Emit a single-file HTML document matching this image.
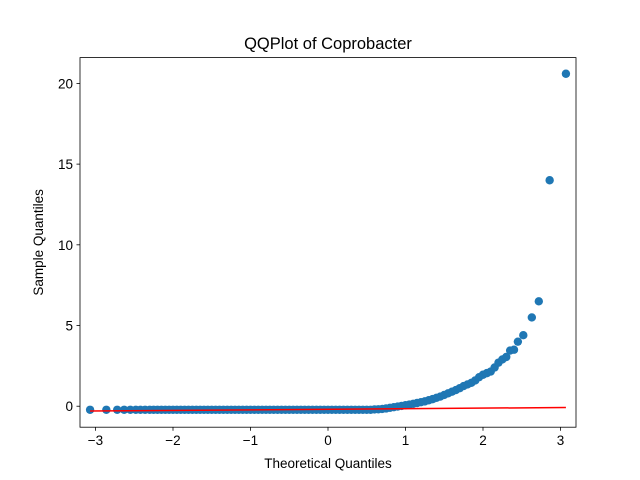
<!DOCTYPE html>
<html><head><meta charset="utf-8"><style>body{margin:0;background:#fff}svg{display:block;font-family:"Liberation Sans","DejaVu Sans",sans-serif}</style></head>
<body>
<svg id="chart" width="640" height="480" viewBox="0 0 640 480" xmlns="http://www.w3.org/2000/svg">
<rect width="640" height="480" fill="#fff"/>
<g id="marks"></g>
<g id="axes"></g>
</svg>
<script>
const xTicks=[-3,-2,-1,0,1,2,3];
const yTicks=[0,5,10,15,20];
const theoretical=[-3.07,-2.86,-2.72,-2.63,-2.55,-2.48,-2.42,-2.36,-2.3,-2.25,-2.2,-2.15,-2.1,-2.05,-2.0,-1.95,-1.9,-1.85,-1.8,-1.75,-1.7,-1.65,-1.6,-1.55,-1.5,-1.45,-1.4,-1.35,-1.3,-1.25,-1.2,-1.15,-1.1,-1.05,-1.0,-0.95,-0.9,-0.85,-0.8,-0.75,-0.7,-0.65,-0.6,-0.55,-0.5,-0.45,-0.4,-0.35,-0.3,-0.25,-0.2,-0.15,-0.1,-0.05,0,0.05,0.1,0.15,0.2,0.25,0.3,0.35,0.4,0.45,0.5,0.55,0.6,0.65,0.7,0.75,0.8,0.85,0.9,0.95,1.0,1.05,1.1,1.15,1.2,1.25,1.3,1.35,1.4,1.45,1.5,1.55,1.6,1.65,1.7,1.75,1.8,1.85,1.9,1.95,2.0,2.05,2.1,2.15,2.2,2.25,2.3,2.35,2.4,2.45,2.52,2.63,2.72,2.86,3.07];
const sample=[-0.22,-0.22,-0.22,-0.22,-0.22,-0.22,-0.22,-0.22,-0.22,-0.22,-0.22,-0.22,-0.22,-0.22,-0.22,-0.22,-0.22,-0.22,-0.22,-0.22,-0.22,-0.22,-0.22,-0.22,-0.22,-0.22,-0.22,-0.22,-0.22,-0.22,-0.22,-0.22,-0.22,-0.22,-0.22,-0.22,-0.22,-0.22,-0.22,-0.22,-0.22,-0.22,-0.22,-0.22,-0.22,-0.22,-0.22,-0.22,-0.22,-0.22,-0.22,-0.22,-0.22,-0.22,-0.22,-0.22,-0.22,-0.22,-0.22,-0.22,-0.22,-0.22,-0.22,-0.22,-0.22,-0.22,-0.2,-0.19,-0.17,-0.14,-0.1,-0.06,-0.02,0.02,0.06,0.1,0.15,0.2,0.25,0.3,0.37,0.44,0.52,0.6,0.7,0.8,0.9,1.0,1.12,1.25,1.35,1.45,1.6,1.8,1.95,2.05,2.15,2.4,2.7,2.9,3.05,3.45,3.5,4.0,4.4,5.5,6.5,14.0,20.6];
const fitX=[-3.07,3.07];
const fitY=[-0.3,-0.08];
const L=80,R=576,T=57.6,B=427.2;
const xmin=-3.2,xmax=3.2,ymin=-1.3,ymax=21.6;
const sx=v=>L+(v-xmin)/(xmax-xmin)*(R-L);
const sy=v=>B-(v-ymin)/(ymax-ymin)*(B-T);
const NS="http://www.w3.org/2000/svg";
function mk(t,a,p){const e=document.createElementNS(NS,t);for(const k in a)e.setAttribute(k,a[k]);p.appendChild(e);return e;}
const marks=document.getElementById('marks'),axes=document.getElementById('axes');
theoretical.forEach((x,i)=>{const c=mk('circle',{cx:sx(x),cy:sy(sample[i]),r:4.2,fill:'#1f77b4'},marks);

});
const ln=mk('line',{x1:sx(fitX[0]),y1:sy(fitY[0]),x2:sx(fitX[1]),y2:sy(fitY[1]),stroke:'#ff0000','stroke-width':1.5},marks);


const fr=mk('rect',{x:L,y:T,width:R-L,height:B-T,fill:'none',stroke:'#000','stroke-width':0.8},axes);


xTicks.forEach(v=>{const x=sx(v);mk('line',{x1:x,y1:B,x2:x,y2:B+3.5,stroke:'#000','stroke-width':0.8},axes);
const t=mk('text',{x:x,y:B+18,'text-anchor':'middle','font-size':13.5,fill:'#000'},axes);t.textContent=v<0?'\u2212'+(-v):v;

});
yTicks.forEach(v=>{const y=sy(v);mk('line',{x1:L,y1:y,x2:L-3.5,y2:y,stroke:'#000','stroke-width':0.8},axes);
const t=mk('text',{x:L-7,y:y+5,'text-anchor':'end','font-size':13.5,fill:'#000'},axes);t.textContent=v;

});
let t=mk('text',{x:(L+R)/2,y:468,'text-anchor':'middle','font-size':13.5,fill:'#000'},axes);t.textContent='Theoretical Quantiles';


t=mk('text',{x:0,y:0,'text-anchor':'middle','font-size':13.5,fill:'#000',transform:`translate(43,${(T+B)/2}) rotate(-90)`},axes);t.textContent='Sample Quantiles';


t=mk('text',{x:(L+R)/2,y:49,'text-anchor':'middle','font-size':16.5,fill:'#000'},axes);t.textContent='QQPlot of Coprobacter';


</script>
</body></html>
